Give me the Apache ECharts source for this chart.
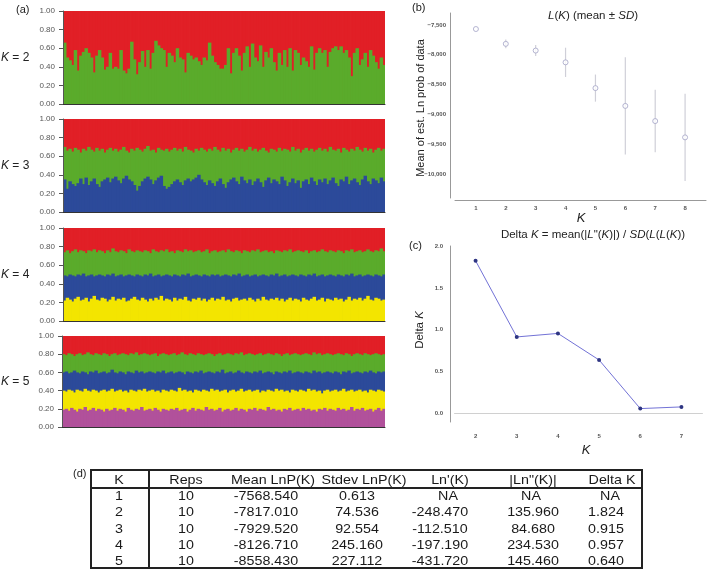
<!DOCTYPE html>
<html>
<head>
<meta charset="utf-8">
<script src="https://cdn.jsdelivr.net/npm/echarts@6.0.0/dist/echarts.min.js"></script>
<style>html,body{margin:0;padding:0;background:#fff;}#chart{width:709px;height:570px;}</style>
</head>
<body>
<div id="chart"></div>
<script>
// ---------- DATA ----------
// (a) STRUCTURE bar plots: cumulative ancestry boundaries per individual
const k2GreenTop = [
0.66,0.50,0.47,0.42,0.58,0.36,0.52,0.56,0.60,0.55,
0.50,0.34,0.52,0.58,0.50,0.37,0.40,0.55,0.38,0.40,
0.38,0.58,0.36,0.33,0.38,0.67,0.48,0.32,0.45,0.57,
0.40,0.58,0.38,0.55,0.68,0.63,0.60,0.58,0.40,0.55,
0.52,0.45,0.60,0.50,0.48,0.34,0.55,0.52,0.48,0.50,
0.46,0.42,0.50,0.47,0.66,0.52,0.45,0.42,0.38,0.38,
0.42,0.60,0.33,0.55,0.60,0.52,0.36,0.55,0.62,0.40,
0.65,0.50,0.46,0.63,0.40,0.56,0.50,0.60,0.45,0.36,
0.55,0.42,0.58,0.40,0.60,0.36,0.58,0.55,0.42,0.50,
0.46,0.40,0.62,0.37,0.55,0.60,0.55,0.58,0.40,0.56,
0.60,0.62,0.58,0.62,0.55,0.58,0.50,0.30,0.55,0.60,
0.42,0.48,0.55,0.40,0.58,0.52,0.45,0.38,0.50,0.42];

const k3BlueTop = [
0.35,0.25,0.33,0.30,0.28,0.31,0.36,0.30,0.37,0.29,
0.33,0.36,0.30,0.27,0.33,0.35,0.37,0.32,0.36,0.38,
0.34,0.31,0.36,0.39,0.35,0.33,0.29,0.23,0.28,0.33,
0.36,0.38,0.35,0.30,0.34,0.37,0.39,0.28,0.25,0.27,
0.30,0.33,0.35,0.32,0.29,0.34,0.36,0.33,0.35,0.37,
0.40,0.35,0.32,0.29,0.34,0.31,0.28,0.33,0.36,0.30,
0.26,0.32,0.35,0.37,0.33,0.30,0.38,0.34,0.31,0.35,
0.29,0.33,0.36,0.32,0.27,0.34,0.37,0.31,0.35,0.33,
0.30,0.38,0.34,0.28,0.32,0.36,0.31,0.34,0.26,0.33,
0.35,0.30,0.37,0.33,0.29,0.35,0.32,0.36,0.30,0.34,
0.37,0.31,0.28,0.35,0.33,0.38,0.30,0.34,0.36,0.32,
0.29,0.35,0.39,0.33,0.30,0.36,0.34,0.31,0.37,0.33];
const k3GreenTop = [
0.70,0.66,0.68,0.65,0.69,0.67,0.64,0.68,0.66,0.70,
0.67,0.65,0.69,0.66,0.68,0.64,0.67,0.69,0.66,0.68,
0.65,0.67,0.70,0.66,0.64,0.68,0.66,0.69,0.67,0.65,
0.68,0.71,0.66,0.67,0.64,0.69,0.67,0.66,0.68,0.65,
0.67,0.69,0.66,0.68,0.65,0.70,0.67,0.66,0.64,0.68,
0.66,0.69,0.67,0.65,0.68,0.66,0.70,0.67,0.65,0.69,
0.66,0.68,0.64,0.67,0.69,0.66,0.68,0.65,0.67,0.70,
0.66,0.68,0.65,0.67,0.69,0.66,0.64,0.68,0.67,0.65,
0.69,0.66,0.68,0.67,0.65,0.70,0.66,0.68,0.64,0.67,
0.69,0.66,0.68,0.65,0.67,0.69,0.66,0.68,0.65,0.70,
0.67,0.66,0.68,0.64,0.69,0.67,0.65,0.68,0.66,0.70,
0.67,0.65,0.69,0.66,0.68,0.64,0.67,0.69,0.66,0.68];

const k4YellowTop = [
0.22,0.25,0.23,0.21,0.24,0.26,0.22,0.23,0.25,0.21,
0.24,0.27,0.23,0.22,0.25,0.24,0.21,0.23,0.26,0.22,
0.24,0.23,0.25,0.21,0.22,0.24,0.26,0.23,0.22,0.25,
0.23,0.21,0.24,0.22,0.25,0.23,0.27,0.22,0.24,0.23,
0.21,0.25,0.22,0.24,0.23,0.26,0.22,0.21,0.24,0.23,
0.25,0.22,0.24,0.21,0.23,0.25,0.22,0.24,0.23,0.26,
0.22,0.23,0.21,0.24,0.25,0.22,0.23,0.24,0.22,0.25,
0.23,0.21,0.24,0.22,0.26,0.23,0.22,0.24,0.23,0.25,
0.22,0.24,0.21,0.23,0.25,0.22,0.24,0.23,0.21,0.25,
0.23,0.22,0.24,0.26,0.22,0.23,0.25,0.21,0.24,0.23,
0.22,0.25,0.23,0.24,0.21,0.23,0.26,0.22,0.24,0.23,
0.25,0.22,0.24,0.27,0.23,0.22,0.25,0.24,0.22,0.23];
const k4BlueTop = [
0.49,0.48,0.50,0.49,0.48,0.50,0.49,0.51,0.48,0.49,
0.50,0.48,0.49,0.50,0.49,0.48,0.50,0.49,0.51,0.48,
0.49,0.50,0.48,0.49,0.50,0.49,0.48,0.50,0.49,0.48,
0.50,0.49,0.51,0.48,0.49,0.50,0.48,0.49,0.50,0.49,
0.48,0.50,0.49,0.48,0.50,0.49,0.51,0.48,0.49,0.50,
0.49,0.48,0.50,0.49,0.48,0.50,0.49,0.50,0.48,0.49,
0.50,0.49,0.48,0.50,0.49,0.51,0.48,0.49,0.50,0.48,
0.49,0.50,0.48,0.49,0.50,0.49,0.48,0.50,0.49,0.51,
0.48,0.49,0.50,0.48,0.49,0.50,0.49,0.48,0.50,0.49,
0.48,0.50,0.49,0.51,0.48,0.49,0.50,0.48,0.49,0.50,
0.49,0.48,0.50,0.49,0.48,0.50,0.49,0.51,0.48,0.49,
0.50,0.48,0.49,0.50,0.49,0.48,0.50,0.49,0.48,0.50];
const k4GreenTop = [
0.74,0.76,0.73,0.75,0.77,0.74,0.76,0.75,0.73,0.76,
0.75,0.77,0.74,0.76,0.75,0.73,0.76,0.74,0.78,0.75,
0.74,0.76,0.75,0.73,0.77,0.75,0.74,0.76,0.75,0.74,
0.76,0.75,0.73,0.77,0.75,0.74,0.76,0.75,0.77,0.74,
0.75,0.73,0.76,0.75,0.74,0.77,0.75,0.76,0.74,0.75,
0.76,0.74,0.75,0.77,0.73,0.75,0.76,0.74,0.75,0.76,
0.74,0.77,0.75,0.74,0.76,0.75,0.73,0.76,0.75,0.74,
0.76,0.75,0.77,0.74,0.75,0.76,0.74,0.75,0.73,0.76,
0.75,0.74,0.76,0.75,0.77,0.74,0.75,0.76,0.75,0.74,
0.76,0.73,0.75,0.76,0.74,0.75,0.77,0.75,0.74,0.76,
0.75,0.74,0.76,0.75,0.73,0.76,0.75,0.77,0.74,0.75,
0.76,0.74,0.75,0.77,0.75,0.74,0.76,0.75,0.78,0.75];

const k5PurpleTop = [
0.19,0.20,0.18,0.21,0.19,0.17,0.20,0.19,0.22,0.18,
0.19,0.21,0.18,0.20,0.19,0.17,0.20,0.18,0.19,0.21,
0.18,0.20,0.19,0.17,0.21,0.19,0.18,0.20,0.19,0.22,
0.18,0.19,0.20,0.18,0.21,0.19,0.17,0.20,0.19,0.18,
0.20,0.19,0.21,0.18,0.19,0.20,0.17,0.19,0.21,0.18,
0.20,0.19,0.18,0.22,0.19,0.20,0.18,0.19,0.21,0.17,
0.19,0.20,0.18,0.19,0.21,0.18,0.20,0.19,0.17,0.20,
0.19,0.21,0.18,0.20,0.19,0.18,0.22,0.19,0.20,0.18,
0.19,0.17,0.20,0.19,0.21,0.18,0.19,0.20,0.18,0.21,
0.19,0.20,0.18,0.19,0.17,0.20,0.19,0.21,0.18,0.20,
0.19,0.18,0.21,0.19,0.20,0.18,0.19,0.22,0.18,0.20,
0.19,0.21,0.18,0.19,0.20,0.17,0.19,0.21,0.18,0.20];
const k5YellowTop = [
0.40,0.39,0.41,0.40,0.38,0.41,0.40,0.39,0.42,0.40,
0.39,0.41,0.40,0.38,0.40,0.41,0.39,0.40,0.42,0.39,
0.40,0.41,0.39,0.40,0.38,0.41,0.40,0.39,0.41,0.40,
0.42,0.39,0.40,0.41,0.39,0.40,0.38,0.41,0.40,0.39,
0.41,0.40,0.39,0.43,0.40,0.41,0.39,0.40,0.38,0.41,
0.40,0.39,0.41,0.40,0.39,0.42,0.40,0.41,0.39,0.40,
0.41,0.38,0.40,0.41,0.39,0.40,0.42,0.39,0.40,0.41,
0.39,0.40,0.41,0.38,0.40,0.39,0.41,0.40,0.39,0.42,
0.40,0.41,0.39,0.40,0.38,0.41,0.40,0.39,0.41,0.40,
0.39,0.42,0.40,0.41,0.39,0.40,0.37,0.40,0.41,0.39,
0.40,0.41,0.39,0.40,0.42,0.39,0.40,0.41,0.39,0.40,
0.41,0.39,0.40,0.38,0.41,0.40,0.39,0.41,0.40,0.39];
const k5BlueTop = [
0.60,0.61,0.59,0.60,0.62,0.60,0.59,0.61,0.60,0.58,
0.61,0.60,0.62,0.59,0.60,0.61,0.59,0.60,0.63,0.60,
0.59,0.61,0.60,0.58,0.61,0.60,0.59,0.62,0.60,0.61,
0.59,0.60,0.61,0.60,0.59,0.61,0.60,0.62,0.59,0.60,
0.61,0.59,0.60,0.61,0.60,0.58,0.61,0.60,0.59,0.61,
0.60,0.62,0.59,0.60,0.61,0.60,0.59,0.61,0.60,0.63,
0.59,0.60,0.61,0.59,0.60,0.62,0.60,0.59,0.61,0.60,
0.59,0.61,0.60,0.62,0.59,0.60,0.61,0.60,0.58,0.61,
0.60,0.59,0.61,0.60,0.62,0.59,0.60,0.61,0.60,0.59,
0.61,0.60,0.59,0.62,0.60,0.61,0.59,0.60,0.61,0.60,
0.59,0.61,0.60,0.58,0.61,0.60,0.62,0.59,0.60,0.61,
0.60,0.59,0.61,0.60,0.62,0.60,0.59,0.61,0.60,0.61];
const k5GreenTop = [
0.80,0.79,0.81,0.80,0.78,0.80,0.81,0.79,0.80,0.82,
0.80,0.79,0.81,0.80,0.79,0.81,0.80,0.78,0.80,0.81,
0.79,0.80,0.81,0.80,0.79,0.81,0.80,0.82,0.79,0.80,
0.81,0.80,0.79,0.80,0.81,0.78,0.80,0.81,0.80,0.79,
0.80,0.81,0.79,0.80,0.82,0.80,0.79,0.81,0.80,0.79,
0.81,0.80,0.79,0.80,0.81,0.80,0.78,0.80,0.81,0.79,
0.80,0.81,0.80,0.79,0.81,0.80,0.82,0.79,0.80,0.81,
0.80,0.79,0.80,0.81,0.79,0.80,0.81,0.80,0.79,0.81,
0.80,0.78,0.80,0.81,0.79,0.80,0.81,0.80,0.79,0.80,
0.81,0.80,0.79,0.82,0.80,0.81,0.79,0.80,0.81,0.80,
0.79,0.80,0.81,0.80,0.79,0.81,0.80,0.78,0.80,0.81,
0.80,0.79,0.81,0.80,0.79,0.80,0.81,0.80,0.79,0.80];

const structureTicks = ['0.00','0.20','0.40','0.60','0.80','1.00'];

// (b) L(K) mean ± SD
const lkK = [1, 2, 3, 4, 5, 6, 7, 8];
const lkMean = [-7568.540, -7817.010, -7929.520, -8126.710, -8558.430, -8857, -9111, -9384];
const lkSD = [0.613, 74.536, 92.554, 245.160, 227.112, 814, 523, 730];

// (c) Delta K
const dkK = [2, 3, 4, 5, 6, 7];
const dkValue = [1.824, 0.915, 0.957, 0.640, 0.06, 0.08];

// (d) table
const tableHeader = ['K', 'Reps', 'Mean LnP(K)', 'Stdev LnP(K)', "Ln'(K)", '|Ln"(K)|', 'Delta K'];
const tableK = ['1', '2', '3', '4', '5'];
const tableReps = ['10', '10', '10', '10', '10'];
const tableMean = ['-7568.540', '-7817.010', '-7929.520', '-8126.710', '-8558.430'];
const tableStdev = ['0.613', '74.536', '92.554', '245.160', '227.112'];
const tableLn1 = ['NA', '-248.470', '-112.510', '-197.190', '-431.720'];
const tableLn2 = ['NA', '135.960', '84.680', '234.530', '145.460'];
const tableDelta = ['NA', '1.824', '0.915', '0.957', '0.640'];

// ---------- BUILD ----------
const FONT = 'Liberation Sans';
const C = {red:'#e11f26', green:'#5aab2b', blue:'#2c4a9a', yellow:'#f3e500', purple:'#b1519b'};
const individuals = k2GreenTop.map((_, i) => String(i + 1));
const whole = individuals.map(() => 1);

const panels = [
  {k:'2', grid:{left:63, top:11, width:322, height:93}, layers:[[whole,C.red],[k2GreenTop,C.green]]},
  {k:'3', grid:{left:63, top:119, width:322, height:93}, layers:[[whole,C.red],[k3GreenTop,C.green],[k3BlueTop,C.blue]]},
  {k:'4', grid:{left:63, top:228, width:322, height:93}, layers:[[whole,C.red],[k4GreenTop,C.green],[k4BlueTop,C.blue],[k4YellowTop,C.yellow]]},
  {k:'5', grid:{left:62, top:336, width:323, height:91}, layers:[[whole,C.red],[k5GreenTop,C.green],[k5BlueTop,C.blue],[k5YellowTop,C.yellow],[k5PurpleTop,C.purple]]}
];

const grids = [], xAxes = [], yAxes = [], series = [], graphics = [];

const barItem = (color) => (params, api) => {
  const top = api.coord([api.value(0), api.value(1)]);
  const base = api.coord([api.value(0), 0]);
  const w = api.size([1, 0])[0];
  const last = params.dataIndex === params.dataInsideLength - 1;
  return {type:'rect', shape:{x: top[0] - w / 2, y: top[1], width: w + (last ? 0 : 0.8), height: base[1] - top[1]},
    style:{fill: color}};
};

panels.forEach((p, gi) => {
  grids.push(p.grid);
  xAxes.push({type:'category', gridIndex:gi, data:individuals, boundaryGap:true,
    axisLine:{show:true, lineStyle:{color:'#333', width:1}}, axisTick:{show:false}, axisLabel:{show:false}, splitLine:{show:false}, z:5});
  yAxes.push({type:'value', gridIndex:gi, min:0, max:1, interval:0.2,
    axisLine:{show:true, lineStyle:{color:'#555', width:1}},
    axisTick:{show:true, length:4, lineStyle:{color:'#555'}},
    axisLabel:{fontSize:8, color:'#555', fontFamily:FONT, margin:8, formatter:(v)=>structureTicks[Math.round(v*5)]},
    splitLine:{show:false}, z:5});
  p.layers.forEach(([arr, col]) => {
    series.push({type:'custom', xAxisIndex:gi, yAxisIndex:gi, silent:true, animation:false,
      data: arr.map((v, i) => [i, v]), encode:{x:0, y:1}, renderItem: barItem(col)});
  });
  const cy = p.grid.top + p.grid.height/2;
  graphics.push({type:'text', x:1, y:cy, style:{text:'{i|K}{n| = ' + p.k + '}', verticalAlign:'middle', align:'left',
    rich:{i:{fontStyle:'italic', fontSize:12, fontFamily:FONT, fill:'#222'}, n:{fontSize:12, fontFamily:FONT, fill:'#222'}}}});
});

// panel b
const bIdx = 4;
grids.push({left:455, top:13, width:253, height:185});
const intLabel = (v) => Math.abs(v - Math.round(v)) < 1e-6 ? String(Math.round(v)) : '';
xAxes.push({type:'value', gridIndex:bIdx, min:0.3, max:8.7, interval:0.1, offset:2,
  axisLine:{show:true, lineStyle:{color:'#999'}}, axisTick:{show:false}, splitLine:{show:false},
  axisLabel:{fontSize:6, fontWeight:'bold', color:'#555', margin:5, formatter:intLabel}});
yAxes.push({type:'value', gridIndex:bIdx, min:-10400, max:-7300, interval:100, offset:5,
  axisLine:{show:true, lineStyle:{color:'#999'}}, axisTick:{show:false}, splitLine:{show:false},
  axisLabel:{fontSize:6, fontWeight:'bold', color:'#555', margin:4,
    formatter:(v)=>{const r=Math.round(v); return r % 500 === 0 ? '\u2212' + Math.abs(r).toLocaleString('en-US') : '';}}});
series.push({type:'custom', xAxisIndex:bIdx, yAxisIndex:bIdx, silent:true, animation:false, z:1,
  data: lkK.map((k,i)=>[k, lkMean[i]-lkSD[i], lkMean[i]+lkSD[i]]),
  encode:{x:0, y:[1,2]},
  renderItem:(params, api)=>{
    const lo = api.coord([api.value(0), api.value(1)]);
    const hi = api.coord([api.value(0), api.value(2)]);
    return {type:'line', shape:{x1:lo[0], y1:lo[1], x2:hi[0], y2:hi[1]}, style:{stroke:'#cfcfd8', lineWidth:1.2}};
  }});
series.push({type:'scatter', xAxisIndex:bIdx, yAxisIndex:bIdx, silent:true, animation:false, z:3,
  data: lkK.map((k,i)=>[k, lkMean[i]]), symbol:'circle', symbolSize:5,
  itemStyle:{color:'#ffffff', borderColor:'#a2a2c6', borderWidth:1}});

// panel c
const cIdx = 5;
grids.push({left:455, top:246, width:247, height:176});
xAxes.push({type:'value', gridIndex:cIdx, min:1.5, max:7.5, interval:0.5, offset:6,
  axisLine:{show:true, lineStyle:{color:'#999'}}, axisTick:{show:false}, splitLine:{show:false},
  axisLabel:{fontSize:6, fontWeight:'bold', color:'#555', margin:5, formatter:intLabel}});
yAxes.push({type:'value', gridIndex:cIdx, min:-0.1, max:2.0, interval:0.1, offset:5,
  axisLine:{show:true, lineStyle:{color:'#999'}}, axisTick:{show:false}, splitLine:{show:false},
  axisLabel:{fontSize:6, fontWeight:'bold', color:'#555', margin:7,
    formatter:(v)=>Math.abs(v*2-Math.round(v*2))<1e-6 ? (Math.round(v*2)/2).toFixed(1) : ''}});
series.push({type:'line', xAxisIndex:cIdx, yAxisIndex:cIdx, silent:true, animation:false,
  data: dkK.map((k,i)=>[k, dkValue[i]]), symbol:'circle', symbolSize:4, showSymbol:true,
  lineStyle:{color:'#7272d6', width:1}, itemStyle:{color:'#2e3582'},
  markLine:{silent:true, symbol:'none', animation:false, label:{show:false},
    lineStyle:{color:'#d0d0d0', width:1, type:'solid'}, data:[{yAxis:0}]}});

// texts
const txt = (x, y, text, size, extra) => Object.assign({type:'text', x, y,
  style:Object.assign({text, fontSize:size, fontFamily:FONT, fill:'#222', align:'left', verticalAlign:'middle'}, extra||{})});
graphics.push(txt(16, 10, '(a)', 11));
graphics.push(txt(412, 8, '(b)', 11));
graphics.push(txt(409, 246, '(c)', 11));
graphics.push(txt(73, 474, '(d)', 11));

const R = (sz) => ({i:{fontStyle:'italic', fontSize:sz, fontFamily:FONT, fill:'#222'}, n:{fontSize:sz, fontFamily:FONT, fill:'#222'}});
graphics.push({type:'text', x:593, y:16, style:{text:'{i|L}{n|(}{i|K}{n|) (mean \u00b1 }{i|SD}{n|)}', align:'center', verticalAlign:'middle', rich:R(11.5)}});
graphics.push({type:'text', x:593, y:235, style:{text:'{n|Delta }{i|K}{n| = mean(|}{i|L}{n|"(}{i|K}{n|)|) / }{i|SD}{n|(}{i|L}{n|(}{i|L}{n|(}{i|K}{n|))}', align:'center', verticalAlign:'middle', rich:R(11.5)}});
graphics.push({type:'text', x:421, y:108, rotation:Math.PI/2, style:{text:'Mean of est. Ln prob of data', fontSize:11, fontFamily:FONT, fill:'#222', align:'center', verticalAlign:'middle'}});
graphics.push({type:'text', x:420, y:330, rotation:Math.PI/2, style:{text:'{n|Delta }{i|K}', align:'center', verticalAlign:'middle', rich:R(11.5)}});
graphics.push({type:'text', x:581, y:218, style:{text:'K', fontSize:13, fontStyle:'italic', fontFamily:FONT, fill:'#222', align:'center', verticalAlign:'middle'}});
graphics.push({type:'text', x:586, y:450, style:{text:'K', fontSize:13, fontStyle:'italic', fontFamily:FONT, fill:'#222', align:'center', verticalAlign:'middle'}});

// table
const tL = 91, tR = 642, tT = 470, tB = 568;
graphics.push({type:'rect', shape:{x:tL, y:tT, width:tR-tL, height:tB-tT}, style:{fill:'none', stroke:'#222', lineWidth:2}});
graphics.push({type:'line', shape:{x1:tL, y1:488, x2:tR, y2:488}, style:{stroke:'#222', lineWidth:2}});
graphics.push({type:'line', shape:{x1:149, y1:tT, x2:149, y2:tB}, style:{stroke:'#222', lineWidth:2}});
const headX = [119, 186, 273, 364, 450, 533, 612];
const valX = [119, 186, 266, 357, 440, 533, 606];
const rowY = [496, 512, 529, 545, 561];
const cell = (x, y, t) => ({type:'text', x, y, scaleX:1.1, style:{text:t, fontSize:13, fontFamily:FONT, fill:'#1a1a1a', align:'center', verticalAlign:'middle'}});
tableHeader.forEach((h, j) => graphics.push(cell(headX[j], 480, h)));
const cols = [tableK, tableReps, tableMean, tableStdev, tableLn1, tableLn2, tableDelta];
cols.forEach((col, j) => col.forEach((v, r) => graphics.push(cell(v === 'NA' ? headX[j] - 2 : valX[j], rowY[r], v))));

const chart = echarts.init(document.getElementById('chart'), null, {renderer:'canvas', width:709, height:570});
chart.setOption({
  backgroundColor:'#ffffff',
  animation:false,
  textStyle:{fontFamily:FONT},
  grid:grids, xAxis:xAxes, yAxis:yAxes, series:series, graphic:graphics
});
</script>
</body>
</html>
